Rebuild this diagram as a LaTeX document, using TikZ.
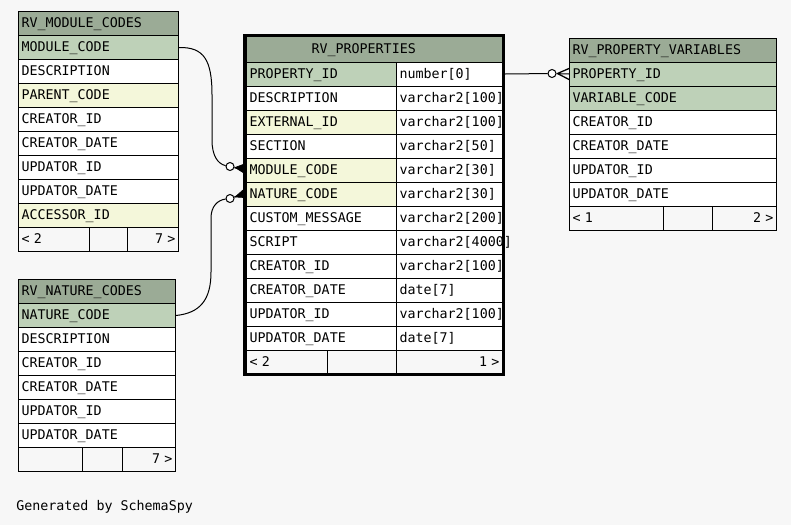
\documentclass[tikz,border=0pt]{standalone}
\usepackage{fontspec}
\newfontfamily\tblfontfam{DejaVu Sans Mono}
\usetikzlibrary{calc}
\newdimen\pxu \pxu=0.75pt
\newcommand\tblfont{\tblfontfam\fontsize{10}{12}\selectfont}
\definecolor{bgc}{HTML}{F7F7F7}
\definecolor{hdrc}{HTML}{9BAB96}
\definecolor{pkc}{HTML}{BED1B8}
\definecolor{fkc}{HTML}{F4F7DA}
\tikzset{
  cellbase/.style={rectangle, draw=black, line width=1\pxu, inner xsep=3\pxu, inner ysep=0pt,
    minimum height=24\pxu, text height=6pt, text depth=0pt, align=left, anchor=north west, font=\tblfont},
  hdcell/.style={cellbase, fill=hdrc},
  pkcell/.style={cellbase, fill=pkc},
  fkcell/.style={cellbase, fill=fkc},
  wcell/.style={cellbase, fill=white},
  ftcell/.style={cellbase, fill=bgc},
  ftrcell/.style={cellbase, fill=bgc, align=right},
  conn/.style={draw=black, line width=1\pxu},
  odot/.style={circle, draw=black, fill=white, line width=1\pxu, minimum size=8\pxu, inner sep=0pt},
  crowfill/.style={fill=black, draw=black, line width=0.6\pxu},
  frame/.style={draw=black, line width=3\pxu},
}
\newcommand\tc[5]{\node[#1, text width=#4\pxu] (#2) at #3 {#5};}
\begin{document}
\begin{tikzpicture}[x=0.75pt, y=-0.75pt]
\fill[bgc] (0,0) rectangle (791,525);
\useasboundingbox (0,0) rectangle (791,525);

% ---------- RV_MODULE_CODES ----------
\tc{hdcell}{mch}{(18,11)}{154}{RV\_MODULE\_CODES}
\tc{pkcell}{mc1}{(18,35)}{154}{MODULE\_CODE}
\tc{wcell}{mc2}{(18,59)}{154}{DESCRIPTION}
\tc{fkcell}{mc3}{(18,83)}{154}{PARENT\_CODE}
\tc{wcell}{mc4}{(18,107)}{154}{CREATOR\_ID}
\tc{wcell}{mc5}{(18,131)}{154}{CREATOR\_DATE}
\tc{wcell}{mc6}{(18,155)}{154}{UPDATOR\_ID}
\tc{wcell}{mc7}{(18,179)}{154}{UPDATOR\_DATE}
\tc{fkcell}{mc8}{(18,203)}{154}{ACCESSOR\_ID}
\tc{ftcell}{mcf1}{(18,227)}{65}{< 2}
\tc{ftcell}{mcf2}{(89,227)}{32}{}
\tc{ftrcell}{mcf3}{(127,227)}{45}{7 >}

% ---------- RV_NATURE_CODES ----------
\tc{hdcell}{nch}{(18,279)}{151}{RV\_NATURE\_CODES}
\tc{pkcell}{nc1}{(18,303)}{151}{NATURE\_CODE}
\tc{wcell}{nc2}{(18,327)}{151}{DESCRIPTION}
\tc{wcell}{nc3}{(18,351)}{151}{CREATOR\_ID}
\tc{wcell}{nc4}{(18,375)}{151}{CREATOR\_DATE}
\tc{wcell}{nc5}{(18,399)}{151}{UPDATOR\_ID}
\tc{wcell}{nc6}{(18,423)}{151}{UPDATOR\_DATE}
\tc{ftcell}{ncf1}{(18,447)}{58}{}
\tc{ftcell}{ncf2}{(82,447)}{34}{}
\tc{ftrcell}{ncf3}{(122,447)}{47}{7 >}

% ---------- RV_PROPERTIES ----------
\tc{hdcell, minimum height=25.5\pxu}{prh}{(246,36)}{250}{\hspace*{62\pxu}RV\_PROPERTIES}
\tc{pkcell}{pn1}{(246,61.5)}{144}{PROPERTY\_ID}
\tc{wcell}{pt1}{(396,61.5)}{100}{number[0]}
\tc{wcell}{pn2}{(246,85.5)}{144}{DESCRIPTION}
\tc{wcell}{pt2}{(396,85.5)}{100}{varchar2[100]}
\tc{fkcell}{pn3}{(246,109.5)}{144}{EXTERNAL\_ID}
\tc{wcell}{pt3}{(396,109.5)}{100}{varchar2[100]}
\tc{wcell}{pn4}{(246,133.5)}{144}{SECTION}
\tc{wcell}{pt4}{(396,133.5)}{100}{varchar2[50]}
\tc{fkcell}{pn5}{(246,157.5)}{144}{MODULE\_CODE}
\tc{wcell}{pt5}{(396,157.5)}{100}{varchar2[30]}
\tc{fkcell}{pn6}{(246,181.5)}{144}{NATURE\_CODE}
\tc{wcell}{pt6}{(396,181.5)}{100}{varchar2[30]}
\tc{wcell}{pn7}{(246,205.5)}{144}{CUSTOM\_MESSAGE}
\tc{wcell}{pt7}{(396,205.5)}{100}{varchar2[200]}
\tc{wcell}{pn8}{(246,229.5)}{144}{SCRIPT}
\tc{wcell}{pt8}{(396,229.5)}{100}{varchar2[4000]}
\tc{wcell}{pn9}{(246,253.5)}{144}{CREATOR\_ID}
\tc{wcell}{pt9}{(396,253.5)}{100}{varchar2[100]}
\tc{wcell}{pn10}{(246,277.5)}{144}{CREATOR\_DATE}
\tc{wcell}{pt10}{(396,277.5)}{100}{date[7]}
\tc{wcell}{pn11}{(246,301.5)}{144}{UPDATOR\_ID}
\tc{wcell}{pt11}{(396,301.5)}{100}{varchar2[100]}
\tc{wcell}{pn12}{(246,325.5)}{144}{UPDATOR\_DATE}
\tc{wcell}{pt12}{(396,325.5)}{100}{date[7]}
\tc{ftcell}{prf1}{(246,349.5)}{75}{< 2}
\tc{ftcell}{prf2}{(327,349.5)}{63}{}
\tc{ftrcell}{prf3}{(396,349.5)}{100}{1 >}
\draw[frame] (244.5,35.5) rectangle (503,374.5);

% ---------- RV_PROPERTY_VARIABLES ----------
\tc{hdcell}{pvh}{(569,37.5)}{201}{RV\_PROPERTY\_VARIABLES}
\tc{pkcell}{pv1}{(569,61.5)}{201}{PROPERTY\_ID}
\tc{pkcell}{pv2}{(569,85.5)}{201}{VARIABLE\_CODE}
\tc{wcell}{pv3}{(569,109.5)}{201}{CREATOR\_ID}
\tc{wcell}{pv4}{(569,133.5)}{201}{CREATOR\_DATE}
\tc{wcell}{pv5}{(569,157.5)}{201}{UPDATOR\_ID}
\tc{wcell}{pv6}{(569,181.5)}{201}{UPDATOR\_DATE}
\tc{ftcell}{pvf1}{(569,205.5)}{88}{< 1}
\tc{ftcell}{pvf2}{(663,205.5)}{43}{}
\tc{ftrcell}{pvf3}{(712,205.5)}{58}{2 >}

% ---------- connectors ----------
% RV_PROPERTIES.MODULE_CODE -> RV_MODULE_CODES.MODULE_CODE
\node[odot] (o1) at (230,166.5) {};
\draw[conn] (mc1.east) .. controls (204,47) and (212,60) .. (212,95)
  -- (212,140) .. controls (212,156) and (218,164) .. (o1);
\draw[conn] (o1) -- ($(pn5.west)+(-3,0)$);
\fill[crowfill] (235,167.5) -- (243,164.5) -- (243,172.5) -- cycle;

% RV_PROPERTIES.NATURE_CODE -> RV_NATURE_CODES.NATURE_CODE
\node[odot] (o2) at (230,198.5) {};
\draw[conn] (nc1.east) .. controls (200,313) and (211,300) .. (211,272)
  -- (211,218) .. controls (211,206) and (218,200) .. (o2);
\draw[conn] (o2) -- ($(pn6.west)+(-3,0)$);
\fill[crowfill] (235,197) -- (243,190) -- (243,197.5) -- cycle;

% RV_PROPERTY_VARIABLES.PROPERTY_ID -> RV_PROPERTIES.PROPERTY_ID
\node[odot] (o3) at (552,73.5) {};
\draw[conn] ($(pt1.east)+(2,0)$) -- (o3);
\draw[conn] (o3) -- (pv1.west);
\draw[conn, line width=1.3\pxu] ($(o3.east)+(1,0)$) -- ($(pv1.west)+(0,-5.5)$);
\draw[conn, line width=1.3\pxu] ($(o3.east)+(1,0)$) -- ($(pv1.west)+(0,5.5)$);

\node[anchor=base west, font=\tblfont, inner sep=0pt] (gen) at (16,510) {Generated by SchemaSpy};
\end{tikzpicture}
\end{document}
